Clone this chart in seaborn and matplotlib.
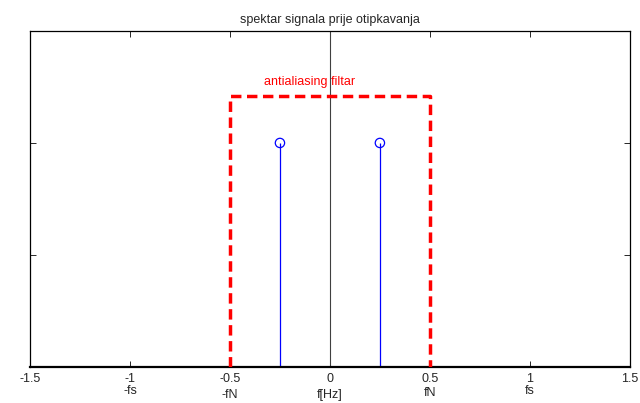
import seaborn as sns
import matplotlib.pyplot as plt
import pandas as pd

# spectral lines
freq = [-0.25, 0.25]
amp = [1.0, 1.0]

# antialiasing filter outline
filt_x = [-0.5, -0.5, 0.5, 0.5]
filt_y = [0.0, 1.21, 1.21, 0.0]

xticks = [-1.5, -1, -0.5, 0, 0.5, 1, 1.5]
yticks = [0.5, 1.0]
freq_names = ['-fs', '-fN', 'f[Hz]', 'fN', 'fs']
freq_pos = [-1, -0.5, 0, 0.5, 1]

sns.set_style('ticks')
plt.rcParams['font.family'] = ['Liberation Sans', 'DejaVu Sans']

fig = plt.figure(figsize=(6.4, 4.03), dpi=100)
ax = fig.add_axes([0.047, 0.0893, 0.937, 0.834])

# center line
ax.axvline(0, color='#404040', lw=0.8, zorder=1)

filt = pd.DataFrame({'x': filt_x, 'y': filt_y})
sns.lineplot(data=filt, x='x', y='y', sort=False, estimator=None, ax=ax,
             color='red', lw=2.5, linestyle=(0, (3, 1.6)), zorder=3)

spec = pd.DataFrame({'f': freq, 'a': amp})
ax.vlines(spec['f'], 0, spec['a'], color='blue', lw=0.9, zorder=2)
sns.scatterplot(data=spec, x='f', y='a', ax=ax, marker='o', s=45,
                facecolor='none', edgecolor='blue', linewidth=0.9, zorder=4)

ax.text(-0.1, 1.245, 'antialiasing filtar', color='red', fontsize=9, ha='center', va='bottom')

ax.set_xlim(-1.5, 1.5)
ax.set_ylim(0, 1.5)
ax.set_xticks(xticks)
ax.set_xticklabels(['-1.5', '-1', '-0.5', '0', '0.5', '1', '1.5'], fontsize=9)
ax.set_yticks(yticks)
ax.set_yticklabels([])
ax.tick_params(direction='in', top=True, right=True, length=4, width=0.7, pad=4)
ax.set_xlabel('')
ax.set_ylabel('')
for s in ax.spines.values():
    s.set_linewidth(0.9)
    s.set_color('black')
ax.spines['bottom'].set_linewidth(1.6)

label_y = [-0.071, -0.083, -0.084, -0.077, -0.071]
for p, n, yy in zip(freq_pos, freq_names, label_y):
    ax.text(p, yy, n, transform=ax.get_xaxis_transform(), ha='center', va='center', fontsize=9)

ax.set_title('spektar signala prije otipkavanja', fontsize=9, pad=6)

fig.savefig('out.png', dpi=100)
